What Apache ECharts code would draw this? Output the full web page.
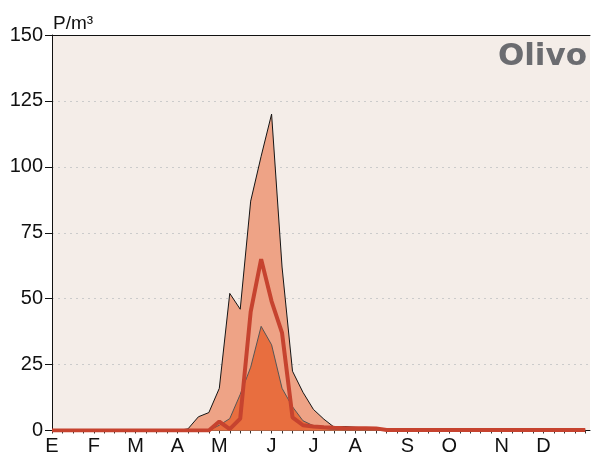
<!DOCTYPE html>
<html>
<head>
<meta charset="utf-8">
<script src="https://cdn.jsdelivr.net/npm/echarts@6/dist/echarts.min.js"></script>
<style>
  html, body { margin: 0; padding: 0; background: #ffffff; }
  #chart { width: 594px; height: 456px; }
</style>
</head>
<body>
<div id="chart"></div>
<script>
// Weekly pollen concentration for olive (Olivo), P/m³, weeks 0..51
var weekMax = [
  0, 0, 0, 0, 0, 0, 0, 0, 0, 0, 0, 0, 0,
  0.6, 5.2, 6.8, 16, 52, 46, 87, 104, 120, 62, 22.5, 14.5, 8, 4.3, 1.2,
  1.5, 1.2, 1.0, 1.1,
  0.2, 0.2, 0.2, 0.2, 0.2, 0.2, 0.2, 0.2, 0.2, 0.2, 0.2, 0.2, 0.2, 0.2, 0.2, 0.2, 0.2, 0.2, 0.2, 0.2
];
var weekMean = [
  0, 0, 0, 0, 0, 0, 0, 0, 0, 0, 0, 0, 0, 0, 0, 0,
  3.4, 0.5, 4.5, 45, 65, 49, 37, 5, 2, 1.5, 1.2, 1.0,
  0.9, 0.9, 0.9, 0.8,
  0.2, 0.2, 0.2, 0.2, 0.2, 0.2, 0.2, 0.2, 0.2, 0.2, 0.2, 0.2, 0.2, 0.2, 0.2, 0.2, 0.2, 0.2, 0.2, 0.2
];
var weekLow = [
  0, 0, 0, 0, 0, 0, 0, 0, 0, 0, 0, 0, 0, 0, 0, 0,
  2, 4.5, 13.7, 24, 39.5, 32.5, 16, 9, 3.7, 1.8, 0.8, 0.5,
  0.3, 0.3, 0.3, 0.3,
  0, 0, 0, 0, 0, 0, 0, 0, 0, 0, 0, 0, 0, 0, 0, 0, 0, 0, 0, 0
];
// First week of each month and its initial
var monthWeeks = [0, 4, 8, 12, 16, 21, 25, 29, 34, 38, 43, 47];
var monthLetters = ['E', 'F', 'M', 'A', 'M', 'J', 'J', 'A', 'S', 'O', 'N', 'D'];
var yTicks = [0, 25, 50, 75, 100, 125, 150];
var unitLabel = 'P/m³';
var taxonName = 'Olivo';

var weekIdx = weekMax.map(function (_, i) { return i; });
function pairs(arr) { return arr.map(function (v, i) { return [weekIdx[i], v]; }); }

var chart = echarts.init(document.getElementById('chart'), null, { renderer: 'canvas' });
var font = '"Liberation Sans", Arial, sans-serif';

chart.setOption({
  animation: false,
  backgroundColor: '#ffffff',
  grid: {
    left: 52, right: 4, top: 35, height: 397,
    show: true, backgroundColor: '#f4ede8', borderWidth: 0
  },
  xAxis: [{
    type: 'value', min: 0, max: 51.45, offset: 1.5,
    axisLine: { show: true, lineStyle: { color: '#111', width: 1 } },
    axisTick: { show: true, length: 3, customValues: weekIdx, lineStyle: { color: '#333' } },
    axisLabel: {
      customValues: monthWeeks, margin: 4,
      fontFamily: font, fontSize: 20, color: '#111',
      formatter: function (v) { return monthLetters[monthWeeks.indexOf(Math.round(v))] || ''; }
    },
    splitLine: { show: false }
  }, {
    type: 'value', min: 0, max: 51.45, position: 'top',
    axisLine: { show: true, lineStyle: { color: '#111', width: 1 } },
    axisTick: { show: false }, axisLabel: { show: false }, splitLine: { show: false }
  }],
  yAxis: {
    type: 'value', min: yTicks[0], max: yTicks[yTicks.length - 1], interval: 25,
    axisLine: { show: true, lineStyle: { color: '#111', width: 1 } },
    axisTick: { show: true, length: 7, lineStyle: { color: '#111' } },
    axisLabel: { margin: 9, fontFamily: font, fontSize: 20, color: '#111' },
    splitLine: { show: true, lineStyle: { color: '#cbcbcb', type: [2, 4], width: 1 } }
  },
  series: [{
    name: 'max', type: 'line', data: pairs(weekMax), showSymbol: false, z: 2,
    lineStyle: { color: '#151515', width: 1 },
    areaStyle: { color: '#eea386', opacity: 1 }
  }, {
    name: 'low', type: 'line', data: pairs(weekLow), showSymbol: false, z: 3,
    lineStyle: { color: '#555555', width: 1 },
    areaStyle: { color: '#e86e3f', opacity: 1 }
  }, {
    name: 'mean', type: 'line', data: pairs(weekMean), showSymbol: false, z: 4,
    lineStyle: { color: '#c6432f', width: 4 }
  }],
  graphic: [{
    type: 'text', left: 53, top: 14,
    style: { text: unitLabel, font: '19px ' + font, fill: '#111' }
  }, {
    type: 'text', right: 7, top: 41,
    style: { text: taxonName, font: 'bold 31px "DejaVu Sans", Verdana, sans-serif', fill: '#6b6c70' }
  }]
});
</script>
</body>
</html>
